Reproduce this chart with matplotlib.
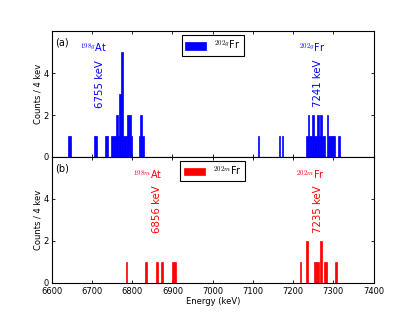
import numpy as np
import matplotlib
matplotlib.use("Agg")
import matplotlib.pyplot as plt

plt.rcParams['mathtext.fontset'] = 'cm'
plt.rcParams['font.family'] = 'DejaVu Sans'

# histogram bins (left edge, keV) and counts, 4 keV wide
bin_width = 4
e_min, e_max = 6600, 7400

g_edges = [6640, 6644, 6704, 6708, 6732, 6736, 6748, 6752, 6756, 6760, 6764,
           6768, 6772, 6776, 6780, 6784, 6788, 6792, 6796, 6816, 6820, 6824,
           7112, 7164, 7172, 7232, 7236, 7240, 7244, 7248, 7252, 7256, 7260,
           7264, 7268, 7272, 7276, 7284, 7288, 7292, 7296, 7300, 7312]
g_counts = [1, 1, 1, 1, 1, 1, 1, 1, 1, 2, 1,
            3, 5, 1, 1, 1, 2, 2, 1, 1, 2, 1,
            1, 1, 1, 1, 2, 1, 1, 2, 1, 1, 2,
            1, 2, 1, 1, 2, 1, 1, 1, 1, 1]

m_edges = [6784, 6832, 6860, 6872, 6900, 6904,
           7216, 7232, 7252, 7256, 7260, 7268, 7276, 7280, 7304]
m_counts = [1, 1, 1, 1, 1, 1,
            1, 2, 1, 1, 1, 2, 1, 1, 1]

panels = [
    dict(edges=g_edges, counts=g_counts, color='#0000ff', tag='(a)',
         legend=r'$^{202g}$Fr',
         labels=[(6670, 5.0, r'$^{198g}$At'), (7215, 5.0, r'$^{202g}$Fr')],
         lines=[(6720, 3.5, '6755 keV'), (7262, 3.5, '7241 keV')]),
    dict(edges=m_edges, counts=m_counts, color='#ff0000', tag='(b)',
         legend=r'$^{202m}$Fr',
         labels=[(6802, 4.95, r'$^{198m}$At'), (7207, 4.95, r'$^{202m}$Fr')],
         lines=[(6862, 3.5, '6856 keV'), (7262, 3.5, '7235 keV')]),
]

fig, axs = plt.subplots(2, 1, figsize=(4.15, 3.14), dpi=100, sharex=True)
fig.subplots_adjust(left=0.125, right=0.9, top=0.9, bottom=0.1, hspace=0)

all_edges = np.arange(e_min, e_max, bin_width)
for ax, p in zip(axs, panels):
    hist = np.zeros(len(all_edges))
    for e, n in zip(p['edges'], p['counts']):
        hist[(e - e_min) // bin_width] = n
    ax.bar(all_edges, hist, width=bin_width, align='edge', color=p['color'],
           edgecolor=p['color'], linewidth=0.5, zorder=3, label=p['legend'])
    ax.set_xlim(e_min, e_max)
    ax.set_ylim(0, 6)
    ax.set_yticks([0, 2, 4])
    ax.set_xticks(np.arange(6600, 7401, 100))
    ax.tick_params(direction='in', top=True, right=True, length=2.5,
                   width=0.6, labelsize=6, pad=2)
    for spine in ax.spines.values():
        spine.set_linewidth(0.8)
    ax.set_ylabel('Counts / 4 kev', fontsize=6, labelpad=1)
    ax.text(6625, 5.47, p['tag'], fontsize=7, ha='center', va='center')
    for x, y, s in p['labels']:
        ax.text(x, y, s, color=p['color'], fontsize=7, ha='left', va='baseline')
    for x, y, s in p['lines']:
        ax.text(x, y, s, color=p['color'], fontsize=7.3, rotation=90,
                ha='center', va='center')
    leg = ax.legend(loc='upper center', fontsize=7, handlelength=2.2,
                    handleheight=0.8, borderpad=0.35, borderaxespad=0.4,
                    fancybox=False, edgecolor='black', framealpha=1)
    leg.get_frame().set_linewidth(0.8)

axs[0].tick_params(labelbottom=False)
axs[1].tick_params(axis='x', pad=3)
axs[1].set_xlabel('Energy (keV)', fontsize=6, labelpad=1)

fig.savefig('out.png', dpi=100)
